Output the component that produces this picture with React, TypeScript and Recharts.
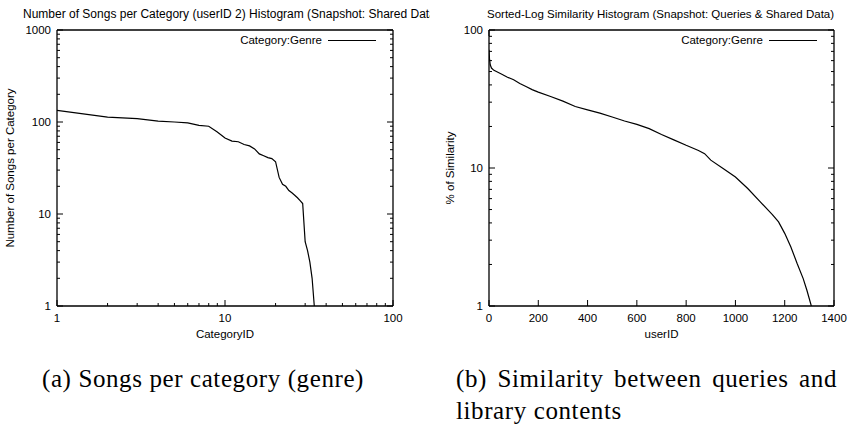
import { Legend, Line, LineChart, XAxis, YAxis } from "recharts";

// Songs per genre category, ranked
const categoryIds = [
  1, 2, 3, 4, 5, 6, 7, 8, 9, 10, 11, 12, 13, 14, 15, 16, 17, 18, 19, 20, 21, 22, 23, 24, 25, 26, 27, 28, 29, 30, 31, 32, 33, 34,
];
const songsPerCategory = [
  134, 113, 109, 102, 100, 98, 92, 90, 78, 67, 62, 61, 57, 55, 51, 45, 43, 41, 40, 37, 25, 21, 20, 18, 17, 16, 15, 14, 13, 5, 4,
  3, 2, 1,
];

// Sorted similarity between queries and shared library contents
const userIds = [
  0, 2, 5, 10, 20, 30, 50, 75, 100, 125, 150, 175, 200, 250, 300, 350, 400, 450, 500, 550, 600, 650, 700, 750, 800, 850, 875,
  900, 950, 1000, 1050, 1100, 1150, 1175, 1200, 1225, 1250, 1275, 1290, 1308,
];
const similarityPct = [
  72, 62, 56, 53, 51, 50, 48, 45.5, 43.6, 41, 39, 37, 35.5, 33, 30.5, 27.9, 26.4, 25, 23.4, 21.9, 20.7, 19.3, 17.5, 16, 14.6,
  13.4, 12.7, 11.4, 9.9, 8.6, 7.1, 5.7, 4.6, 4.07, 3.36, 2.68, 2.04, 1.58, 1.3, 1,
];

const categoryTicks = [1, 2, 3, 4, 5, 6, 7, 8, 9, 10, 20, 30, 40, 50, 60, 70, 80, 90, 100];
const categoryLabels = [1, 10, 100];
const songsTicks = [
  1, 2, 3, 4, 5, 6, 7, 8, 9, 10, 20, 30, 40, 50, 60, 70, 80, 90, 100, 200, 300, 400, 500, 600, 700, 800, 900, 1000,
];
const songsLabels = [1, 10, 100, 1000];
const userTicks = [0, 200, 400, 600, 800, 1000, 1200, 1400];
const similarityTicks = [1, 2, 3, 4, 5, 6, 7, 8, 9, 10, 20, 30, 40, 50, 60, 70, 80, 90, 100];
const similarityLabels = [1, 10, 100];

const songsData = categoryIds.map((id, i) => ({ id, songs: songsPerCategory[i] }));
const similarityData = userIds.map((id, i) => ({ id, pct: similarityPct[i] }));

const FONT = "'Liberation Sans', Arial, Helvetica, sans-serif";
const FS = 11.5;
const AXIS_LINE = { stroke: "#000", strokeWidth: 1.3 };

type Side = "left" | "right" | "bottom" | "top";
type TickProps = { x?: number; y?: number; payload?: { value: number } };

// gnuplot-style inward ticks; labels only on the outer left/bottom axes
function makeTick(side: Side, labels: number[]) {
  return function Tick({ x = 0, y = 0, payload }: TickProps) {
    const v = payload ? payload.value : 0;
    const major = labels.includes(v);
    const len = major ? 6 : 3;
    const show = major && (side === "left" || side === "bottom");
    let line;
    if (side === "left") line = <line x1={x} x2={x + len} y1={y} y2={y} />;
    else if (side === "right") line = <line x1={x} x2={x - len} y1={y} y2={y} />;
    else if (side === "bottom") line = <line x1={x} x2={x} y1={y} y2={y - len} />;
    else line = <line x1={x} x2={x} y1={y} y2={y + len} />;
    return (
      <g>
        <g stroke="#000" strokeWidth={1}>{line}</g>
        {show && side === "left" && (
          <text x={x - 6} y={y + 4} textAnchor="end" fontSize={FS} fill="#000">
            {v}
          </text>
        )}
        {show && side === "bottom" && (
          <text x={x} y={y + 16} textAnchor="middle" fontSize={FS} fill="#000">
            {v}
          </text>
        )}
      </g>
    );
  };
}

function VerticalTitle({ viewBox, text, gap }: { viewBox?: any; text: string; gap: number }) {
  if (!viewBox) return null;
  const cx = viewBox.x + viewBox.width - gap;
  const cy = viewBox.y + viewBox.height / 2;
  return (
    <text
      x={cx}
      y={cy}
      transform={`rotate(-90 ${cx} ${cy})`}
      textAnchor="middle"
      dominantBaseline="central"
      fontSize={FS}
      fill="#000"
    >
      {text}
    </text>
  );
}

function KeyEntry() {
  return (
    <div style={{ display: "flex", alignItems: "center", fontSize: FS, lineHeight: "14px", color: "#000", fontFamily: FONT }}>
      <span>Category:Genre</span>
      <span style={{ display: "inline-block", width: 48, marginLeft: 6, borderTop: "1.2px solid #000" }} />
    </div>
  );
}

const titleStyle = {
  position: "absolute" as const,
  top: 7,
  fontFamily: FONT,
  fontSize: FS,
  lineHeight: "14px",
  whiteSpace: "nowrap" as const,
  overflow: "hidden",
  color: "#000",
};

const captionStyle = {
  position: "absolute" as const,
  fontFamily: "'Liberation Serif', 'Times New Roman', serif",
  fontSize: 25,
  lineHeight: "25px",
  letterSpacing: 0.6,
  whiteSpace: "nowrap" as const,
  color: "#000",
};

export default function App() {
  return (
    <div style={{ position: "absolute", left: 0, top: 0, width: 849, height: 427, background: "#fff", overflow: "hidden" }}>
      {/* the left title runs past the panel edge and is cut off there */}
      <div style={{ ...titleStyle, left: 23, width: 407, fontSize: 12 }}>
        Number of Songs per Category (userID 2) Histogram (Snapshot: Shared Data)
      </div>
      <div style={{ ...titleStyle, left: 487 }}>Sorted-Log Similarity Histogram (Snapshot: Queries &amp; Shared Data)</div>

      <div style={{ position: "absolute", left: 0, top: 0 }}>
        <LineChart
          width={430}
          height={350}
          data={songsData}
          margin={{ top: 29, right: 36, bottom: 8, left: 12 }}
          style={{ fontFamily: FONT }}
        >
          <XAxis
            dataKey="id"
            type="number"
            scale="log"
            domain={[1, 100]}
            allowDataOverflow
            ticks={categoryTicks}
            interval={0}
            height={36}
            tickSize={0}
            tickMargin={0}
            axisLine={AXIS_LINE}
            tick={makeTick("bottom", categoryLabels)}
            label={{ value: "CategoryID", position: "insideBottom", offset: 4, fill: "#000", fontSize: FS }}
          />
          <XAxis
            xAxisId="top"
            orientation="top"
            type="number"
            scale="log"
            domain={[1, 100]}
            allowDataOverflow
            ticks={categoryTicks}
            interval={0}
            height={1}
            tickSize={0}
            tickMargin={0}
            axisLine={AXIS_LINE}
            tick={makeTick("top", categoryLabels)}
          />
          <YAxis
            type="number"
            scale="log"
            domain={[1, 1000]}
            allowDataOverflow
            ticks={songsTicks}
            interval={0}
            width={45}
            tickSize={0}
            tickMargin={0}
            axisLine={AXIS_LINE}
            tick={makeTick("left", songsLabels)}
            label={<VerticalTitle text="Number of Songs per Category" gap={47.5} />}
          />
          <YAxis
            yAxisId="right"
            orientation="right"
            type="number"
            scale="log"
            domain={[1, 1000]}
            allowDataOverflow
            ticks={songsTicks}
            interval={0}
            width={1}
            tickSize={0}
            tickMargin={0}
            axisLine={AXIS_LINE}
            tick={makeTick("right", songsLabels)}
          />
          <Legend
            content={<KeyEntry />}
            layout="vertical"
            align="center"
            verticalAlign="middle"
            wrapperStyle={{ top: 33, left: "auto", right: 54, width: "auto" }}
          />
          <Line dataKey="songs" name="Category:Genre" stroke="#000" strokeWidth={1.2} dot={false} isAnimationActive={false} />
        </LineChart>
      </div>

      <div style={{ position: "absolute", left: 430, top: 0 }}>
        <LineChart
          width={419}
          height={350}
          data={similarityData}
          margin={{ top: 29, right: 14, bottom: 8, left: 14 }}
          style={{ fontFamily: FONT }}
        >
          <XAxis
            dataKey="id"
            type="number"
            domain={[0, 1400]}
            allowDataOverflow
            ticks={userTicks}
            interval={0}
            height={36}
            tickSize={0}
            tickMargin={0}
            axisLine={AXIS_LINE}
            tick={makeTick("bottom", userTicks)}
            label={{ value: "userID", position: "insideBottom", offset: 4, fill: "#000", fontSize: FS }}
          />
          <XAxis
            xAxisId="top"
            orientation="top"
            type="number"
            domain={[0, 1400]}
            allowDataOverflow
            ticks={userTicks}
            interval={0}
            height={1}
            tickSize={0}
            tickMargin={0}
            axisLine={AXIS_LINE}
            tick={makeTick("top", userTicks)}
          />
          <YAxis
            type="number"
            scale="log"
            domain={[1, 100]}
            allowDataOverflow
            ticks={similarityTicks}
            interval={0}
            width={45}
            tickSize={0}
            tickMargin={0}
            axisLine={AXIS_LINE}
            tick={makeTick("left", similarityLabels)}
            label={<VerticalTitle text="% of Similarity" gap={39} />}
          />
          <YAxis
            yAxisId="right"
            orientation="right"
            type="number"
            scale="log"
            domain={[1, 100]}
            allowDataOverflow
            ticks={similarityTicks}
            interval={0}
            width={1}
            tickSize={0}
            tickMargin={0}
            axisLine={AXIS_LINE}
            tick={makeTick("right", similarityLabels)}
          />
          <Legend
            content={<KeyEntry />}
            layout="vertical"
            align="center"
            verticalAlign="middle"
            wrapperStyle={{ top: 33, left: "auto", right: 32, width: "auto" }}
          />
          <Line dataKey="pct" name="Category:Genre" stroke="#000" strokeWidth={1.2} dot={false} isAnimationActive={false} />
        </LineChart>
      </div>

      <div style={{ ...captionStyle, left: 42, top: 366 }}>(a) Songs per category (genre)</div>
      <div style={{ ...captionStyle, left: 456, top: 366, width: 381, textAlign: "justify", textAlignLast: "justify" }}>
        (b) Similarity between queries and
      </div>
      <div style={{ ...captionStyle, left: 456, top: 398 }}>library contents</div>
    </div>
  );
}
